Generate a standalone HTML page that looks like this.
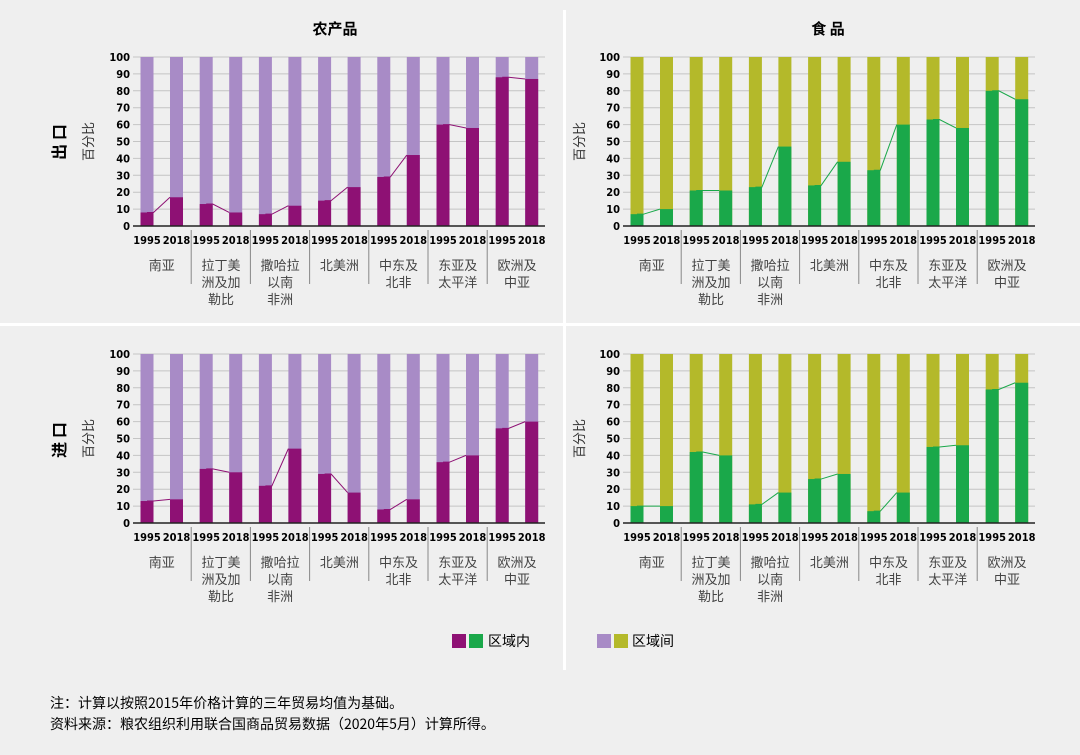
<!DOCTYPE html><html><head><meta charset="utf-8"><style>
body{margin:0;background:#efefef;width:1080px;height:750px;overflow:hidden;font-family:"Liberation Sans","Noto Sans CJK SC",sans-serif}
</style></head><body>
<svg id="s" width="1080" height="750" xmlns="http://www.w3.org/2000/svg"></svg>
<script>
const S=document.getElementById('s');let h='';
h+='<rect x="563" y="10" width="3" height="660" fill="#fff"/><rect x="0" y="323" width="1080" height="3" fill="#fff"/>';
h+='<text x="335" y="34" font-size="15" font-weight="bold" text-anchor="middle" font-family="Noto Sans CJK SC">农产品</text>';
h+='<text x="828" y="34" font-size="15" font-weight="bold" text-anchor="middle" font-family="Noto Sans CJK SC">食 品</text>';
h+='<text transform="translate(65,142) rotate(-90)" font-size="16" font-weight="bold" text-anchor="middle" font-family="Noto Sans CJK SC">出 口</text>';
h+='<text transform="translate(65,440) rotate(-90)" font-size="16" font-weight="bold" text-anchor="middle" font-family="Noto Sans CJK SC">进 口</text>';
const regs=[["南亚"],["拉丁美","洲及加","勒比"],["撒哈拉","以南","非洲"],["北美洲"],["中东及","北非"],["东亚及","太平洋"],["欧洲及","中亚"]];
function panel(x0,top,bot,data,dark,light,yl){
 const ax=x0-14, aw=412, H=bot-top;
 for(let v=0;v<=100;v+=10){const y=bot-v*H/100;
  h+=`<line x1="${ax}" x2="${ax+aw}" y1="${y}" y2="${y}" stroke="#c4c4c4" stroke-width="1"/>`;
  h+=`<text x="${ax-3}" y="${y+4}" font-size="11" font-weight="bold" text-anchor="end" font-family="DejaVu Sans Condensed,Liberation Sans">${v}</text>`;}
 h+=`<text transform="translate(${yl},${(top+bot)/2}) rotate(-90)" font-size="13" text-anchor="middle" fill="#333" font-family="Noto Sans CJK SC">百分比</text>`;
 let pts=[];
 data.forEach((d,g)=>{d.forEach((v,i)=>{const cx=x0+g*59.2+i*29.5;const yv=bot-v*H/100;
  h+=`<rect x="${cx-6.5}" y="${top}" width="13" height="${H}" fill="${light}"/><rect x="${cx-6.5}" y="${yv}" width="13" height="${bot-yv}" fill="${dark}"/>`;
  pts.push([cx,yv]);
  h+=`<text x="${cx}" y="${bot+18}" font-size="11" font-weight="bold" text-anchor="middle" font-family="DejaVu Sans Condensed,Liberation Sans">${i?2018:1995}</text>`;});
  const pa=pts[pts.length-2],pb=pts[pts.length-1];
  h+=`<polyline points="${pa[0]},${pa[1]} ${pa[0]+6.5},${pa[1]} ${pb[0]-6.5},${pb[1]}" fill="none" stroke="${dark}" stroke-width="1"/>`;
  const gc=x0+g*59.2+14.75;
  regs[g].forEach((t,k)=>h+=`<text x="${gc}" y="${bot+44+k*17}" font-size="13" text-anchor="middle" fill="#444" font-family="Noto Sans CJK SC">${t}</text>`);
  if(g>0)h+=`<line x1="${x0+g*59.2-15}" x2="${x0+g*59.2-15}" y1="${bot+4}" y2="${bot+58}" stroke="#888"/>`;
 });
 h+=`<line x1="${ax}" x2="${ax+aw}" y1="${bot}" y2="${bot}" stroke="#222" stroke-width="1.5"/>`;
}
const P1='#8e1174',P2='#a88bc6',G1='#1aa84a',G2='#b4b92a';
panel(147,57,226,[[8,17],[13,8],[7,12],[15,23],[29,42],[60,58],[88,87]],P1,P2,93);
panel(637,57,226,[[7,10],[21,21],[23,47],[24,38],[33,60],[63,58],[80,75]],G1,G2,584);
panel(147,354,523,[[13,14],[32,30],[22,44],[29,18],[8,14],[36,40],[56,60]],P1,P2,93);
panel(637,354,523,[[10,10],[42,40],[11,18],[26,29],[7,18],[45,46],[79,83]],G1,G2,584);
h+=`<rect x="452" y="634" width="14" height="14" fill="${P1}"/><rect x="469" y="634" width="14" height="14" fill="${G1}"/><text x="488" y="646" font-size="14" font-family="Noto Sans CJK SC">区域内</text>`;
h+=`<rect x="597" y="634" width="14" height="14" fill="${P2}"/><rect x="614" y="634" width="14" height="14" fill="${G2}"/><text x="632" y="646" font-size="14" font-family="Noto Sans CJK SC">区域间</text>`;
h+='<text x="50" y="708" font-size="14" font-family="Noto Sans CJK SC">注：计算以按照2015年价格计算的三年贸易均值为基础。</text>';
h+='<text x="50" y="729" font-size="14" font-family="Noto Sans CJK SC">资料来源：粮农组织利用联合国商品贸易数据（2020年5月）计算所得。</text>';
S.innerHTML=h;
</script></body></html>
